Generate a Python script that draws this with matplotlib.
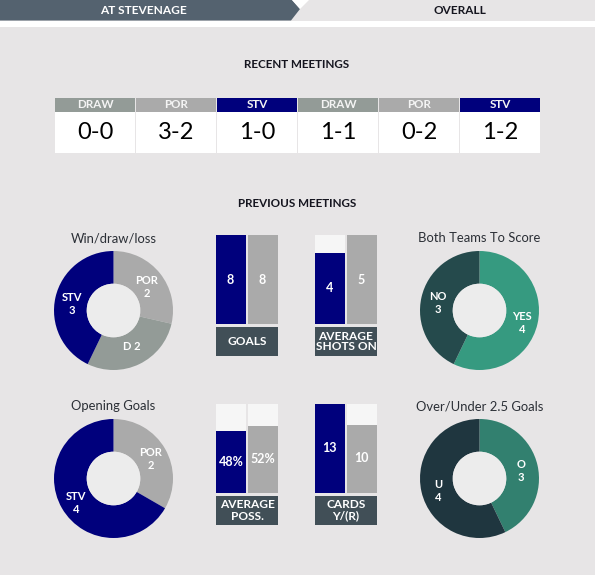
import matplotlib
matplotlib.use('Agg')
import matplotlib.pyplot as plt
from matplotlib.patches import Rectangle, Polygon

plt.rcParams['font.family'] = ['Lato', 'DejaVu Sans']

W, H = 595, 575

# recent meetings
recent_heads = ['DRAW', 'POR', 'STV', 'DRAW', 'POR', 'STV']
recent_scores = ['0-0', '3-2', '1-0', '1-1', '0-2', '1-2']

# donuts
wdl_labels = ['POR\n2', 'D 2', 'STV\n3']
wdl_values = [2, 2, 3]
btts_labels = ['YES\n4', 'NO\n3']
btts_values = [4, 3]
opening_labels = ['POR\n2', 'STV\n4']
opening_values = [2, 4]
ou_labels = ['O\n3', 'U\n4']
ou_values = [3, 4]

# paired bars: stv, por, top of the scale
goals_values = [8, 8]
goals_max = 8
shots_values = [4, 5]
shots_max = 5
poss_values = [48, 52]
poss_max = 69
cards_values = [13, 10]
cards_max = 13

BG = '#e7e5e6'
HOLE = '#ececec'
NAVY = '#00007c'
GREY = '#aaaaaa'
DRAW = '#939b97'
PALE = '#f6f6f6'
BOX = '#414f57'
INK = '#15151f'
head_colors = {'DRAW': DRAW, 'POR': GREY, 'STV': NAVY}

fig = plt.figure(figsize=(W / 100, H / 100), dpi=100, facecolor=BG)

# pixel canvas for the page furniture
page = fig.add_axes([0, 0, 1, 1])
page.set_xlim(0, W)
page.set_ylim(H, 0)
page.axis('off')

page.add_patch(Rectangle((0, 21), W, 6, color='white', lw=0))
page.add_patch(Polygon([[0, 0], [292, 0], [300, 9], [291, 20.5], [0, 20.5]], color='#54626f', lw=0))
page.add_patch(Polygon([[292, 0], [309, 0], [300, 9]], color='white', lw=0))
page.text(143, 10.5, 'AT STEVENAGE', color='white', fontsize=8.6, fontweight='bold', ha='center', va='center')
page.text(460, 10.5, 'OVERALL', color=INK, fontsize=8.5, fontweight='bold', ha='center', va='center')

page.text(297, 64, 'RECENT MEETINGS', color=INK, fontsize=8.4, fontweight='bold', ha='center', va='center')
page.text(297, 203.5, 'PREVIOUS MEETINGS', color=INK, fontsize=8.4, fontweight='bold', ha='center', va='center')

# score table
for i, (head, score) in enumerate(zip(recent_heads, recent_scores)):
    x = 55 + i * 81
    page.add_patch(Rectangle((x, 98), 79.5, 14, color=head_colors[head], lw=0))
    page.add_patch(Rectangle((x, 112), 79.5, 40.5, color='white', lw=0))
    page.text(x + 40, 105, head, color='#f4f4f4', fontsize=8.4, fontweight='bold', ha='center', va='center')
    page.text(x + 40, 132.5, score, color='black', fontsize=17, ha='center', va='center')


def donut(cx, cy, title, values, labels, colors, spots):
    r = 59.5
    ax = fig.add_axes([(cx - r) / W, 1 - (cy + r) / H, 2 * r / W, 2 * r / H])
    ax.pie(values, colors=colors, startangle=90, counterclock=False, radius=1,
           wedgeprops={'width': 0.55, 'linewidth': 0})
    ax.add_patch(plt.Circle((0, 0), 0.45, color=HOLE, lw=0))
    ax.set_xlim(-1, 1)
    ax.set_ylim(-1, 1)
    page.text(cx, cy - 72, title, color='#2b2f36', fontsize=9.4, ha='center', va='center')
    for label, (sx, sy) in zip(labels, spots):
        fig.text(sx / W, 1 - sy / H, label, color='white', fontsize=8, fontweight='bold',
                 ha='center', va='center', linespacing=1.2)


def pair(x, top, title, values, vmax, value_spots):
    h = 89
    ax = fig.add_axes([x / W, 1 - (top + h) / H, 62 / W, h / H], facecolor=BG)
    ax.bar([0], [vmax], width=1, color=PALE, lw=0)
    ax.bar([1.07], [vmax], width=1, color=PALE, lw=0)
    ax.bar([0], [values[0]], width=1, color=NAVY, lw=0)
    ax.bar([1.07], [values[1]], width=1, color=GREY, lw=0)
    ax.set_xlim(-0.5, 1.57)
    ax.set_ylim(0, vmax)
    ax.axis('off')
    for val, sx, sy in value_spots:
        fig.text(sx / W, 1 - sy / H, val, color='white', fontsize=9, fontweight='bold', ha='center', va='center')
    page.add_patch(Rectangle((x, top + h + 2.5), 61.5, 29.5, color=BOX, lw=0))
    page.text(x + 31, top + h + 17.5, title, color='white', fontsize=8.6, fontweight='bold',
              ha='center', va='center', linespacing=1.0)


donut(113.5, 310.5, 'Win/draw/loss', wdl_values, wdl_labels, [GREY, DRAW, NAVY],
      [(147, 287), (132, 346), (72, 304)])
donut(479.5, 310.5, 'Both Teams To Score', btts_values, btts_labels, ['#369a80', '#254a4c'],
      [(522, 323), (438, 303)])
donut(113.5, 478.5, 'Opening Goals', opening_values, opening_labels, [GREY, NAVY],
      [(151, 459), (76, 503)])
donut(479.5, 478.5, 'Over/Under 2.5 Goals', ou_values, ou_labels, ['#32806f', '#1f363f'],
      [(521, 471), (438, 491)])

pair(216, 235, 'GOALS', goals_values, goals_max, [('8', 230.5, 279.5), ('8', 262, 279.5)])
pair(315, 235, 'AVERAGE\nSHOTS ON', shots_values, shots_max, [('4', 329.5, 288.5), ('5', 361, 279.5)])
pair(216, 404, 'AVERAGE\nPOSS.', poss_values, poss_max, [('48%', 231, 461.5), ('52%', 262.5, 459)])
pair(315, 404, 'CARDS\nY/(R)', cards_values, cards_max, [('13', 329.5, 447.5), ('10', 361, 458.5)])

fig.savefig('out.png', dpi=100, facecolor=BG)
